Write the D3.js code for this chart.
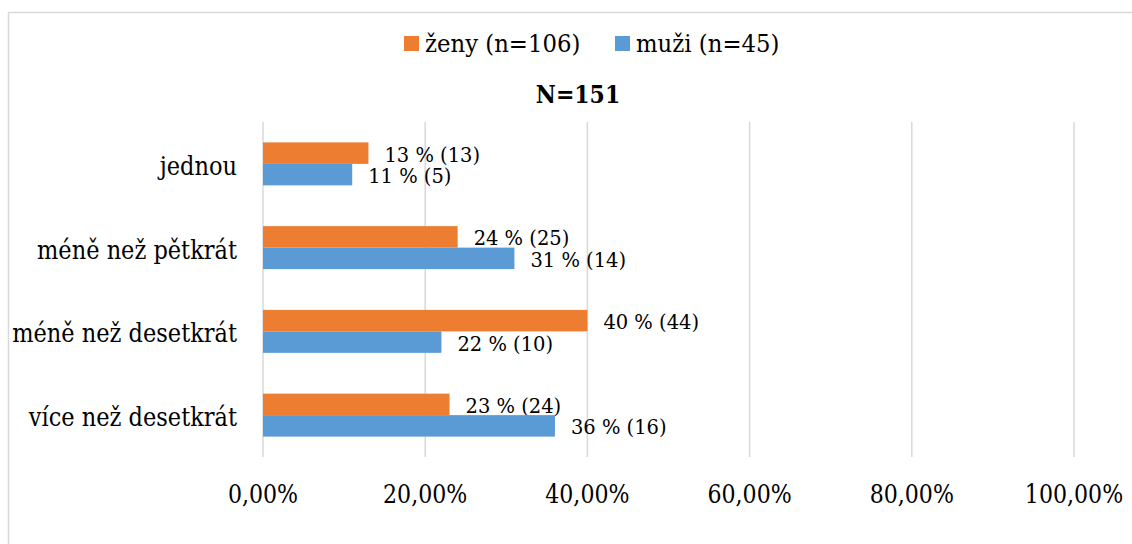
<!DOCTYPE html>
<html>
<head>
<meta charset="utf-8">
<script src="https://cdn.jsdelivr.net/npm/d3@7"></script>
<style>
  html, body { margin: 0; padding: 0; background: #ffffff; }
  svg { display: block; }
</style>
</head>
<body>
<script>
// ---- data ----
const categories = ["jednou", "méně než pětkrát", "méně než desetkrát", "více než desetkrát"];
const seriesNames = ["ženy (n=106)", "muži (n=45)"];
const zenyPct = [13, 24, 40, 23];
const zenyCount = [13, 25, 44, 24];
const muziPct = [11, 31, 22, 36];
const muziCount = [5, 14, 10, 16];
const xTicks = [0, 20, 40, 60, 80, 100];
const xTickLabels = ["0,00%", "20,00%", "40,00%", "60,00%", "80,00%", "100,00%"];
const title = "N=151";
const colors = ["#ED7D31", "#5B9BD5"];

const FONT = "'DejaVu Serif', serif";
const W = 1132, H = 544;
const svg = d3.select("body").append("svg").attr("width", W).attr("height", H)
  .attr("font-family", FONT);

// narrow the serif glyphs horizontally to mimic a Times-like face
function condense(sel, k) {
  sel.each(function () {
    const len = this.getComputedTextLength();
    d3.select(this).attr("textLength", len * k).attr("lengthAdjust", "spacingAndGlyphs");
  });
}

// chart border
svg.append("rect")
  .attr("x", 8.5).attr("y", 12.5)
  .attr("width", W + 20).attr("height", H + 20)
  .attr("fill", "#fff").attr("stroke", "#d9d9d9").attr("stroke-width", 1.5);

const x = d3.scaleLinear().domain([0, 100]).range([263, 1074]);
const y = d3.scaleBand().domain(categories).range([122, 457])
  .paddingInner(0.487).paddingOuter(0.2435);
const ySub = d3.scaleBand().domain(seriesNames).range([0, y.bandwidth()]);

// gridlines
svg.append("g").selectAll("line").data(xTicks).join("line")
  .attr("x1", d => x(d)).attr("x2", d => x(d))
  .attr("y1", 122).attr("y2", 457)
  .attr("stroke", "#d9d9d9").attr("stroke-width", 1.5);

// x axis tick labels
svg.append("g").selectAll("text").data(xTicks).join("text")
  .attr("x", d => x(d)).attr("y", 503)
  .attr("text-anchor", "middle")
  .attr("font-family", FONT)
  .attr("font-size", 26)
  .text((d, i) => xTickLabels[i])
  .call(condense, 0.85);

// category labels
svg.append("g").selectAll("text").data(categories).join("text")
  .attr("x", 237)
  .attr("y", d => y(d) + y.bandwidth() / 2 + 11)
  .attr("text-anchor", "end")
  .attr("font-family", FONT)
  .attr("font-size", 26)
  .text(d => d)
  .call(condense, 0.865);

// bars
const series = [
  { name: seriesNames[0], pct: zenyPct, cnt: zenyCount, color: colors[0] },
  { name: seriesNames[1], pct: muziPct, cnt: muziCount, color: colors[1] }
];
series.forEach(s => {
  const g = svg.append("g");
  g.selectAll("rect").data(categories).join("rect")
    .attr("x", x(0))
    .attr("y", d => y(d) + ySub(s.name))
    .attr("width", (d, i) => x(s.pct[i]) - x(0))
    .attr("height", ySub.bandwidth())
    .attr("fill", s.color);
  g.selectAll("text").data(categories).join("text")
    .attr("x", (d, i) => x(s.pct[i]) + 16)
    .attr("y", d => y(d) + ySub(s.name) + ySub.bandwidth() / 2 + 8.5)
    .attr("font-family", FONT)
    .attr("font-size", 20.5)
    .text((d, i) => s.pct[i] + " % (" + s.cnt[i] + ")")
    .call(condense, 0.95);
});

// legend
const legendItems = [
  { name: seriesNames[0], color: colors[0], x: 404 },
  { name: seriesNames[1], color: colors[1], x: 615 }
];
const lg = svg.append("g");
legendItems.forEach(it => {
  lg.append("rect").attr("x", it.x).attr("y", 36).attr("width", 15).attr("height", 15).attr("fill", it.color);
  lg.append("text").attr("x", it.x + 21).attr("y", 52)
    .attr("font-family", FONT)
    .attr("font-size", 24.5).text(it.name)
    .call(condense, 0.93);
});

// title
svg.append("text")
  .attr("x", 578).attr("y", 103)
  .attr("text-anchor", "middle")
  .attr("font-family", FONT)
  .attr("font-size", 25).attr("font-weight", "bold")
  .text(title)
  .call(condense, 0.88);
</script>
</body>
</html>
